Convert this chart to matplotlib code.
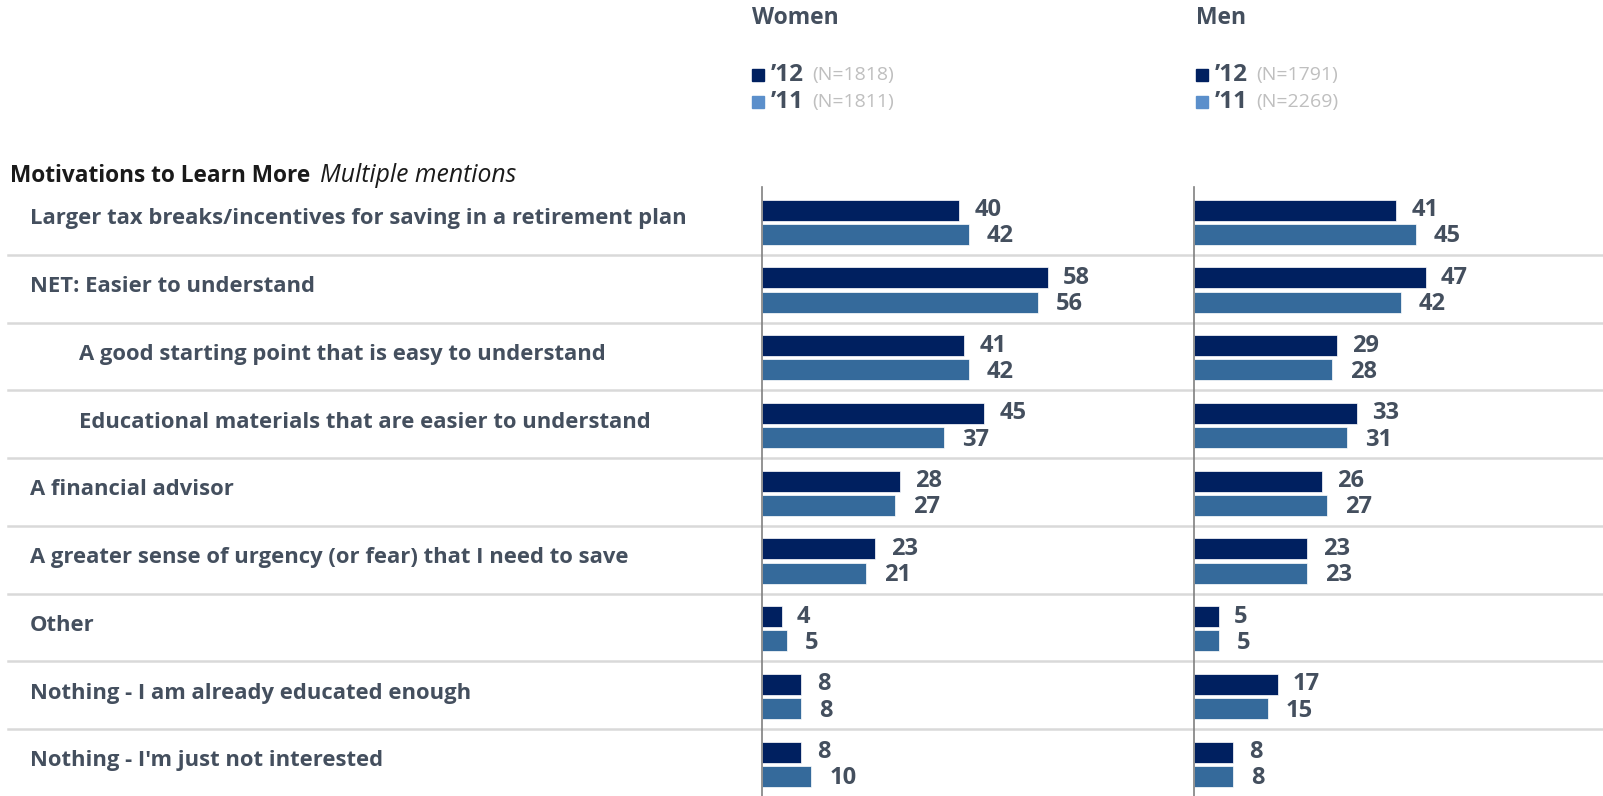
import matplotlib
matplotlib.use('Agg')
import matplotlib.pyplot as plt
import matplotlib.transforms as mtransforms
from matplotlib.lines import Line2D
from matplotlib.patches import Rectangle

# data
categories = ['Larger tax breaks/incentives for saving in a retirement plan',
              'NET: Easier to understand',
              'A good starting point that is easy to understand',
              'Educational materials that are easier to understand',
              'A financial advisor',
              'A greater sense of urgency (or fear) that I need to save',
              'Other',
              'Nothing - I am already educated enough',
              "Nothing - I'm just not interested"]
indented = [False, False, True, True, False, False, False, False, False]

women_12 = [40, 58, 41, 45, 28, 23, 4, 8, 8]
women_11 = [42, 56, 42, 37, 27, 21, 5, 8, 10]
men_12 = [41, 47, 29, 33, 26, 23, 5, 17, 8]
men_11 = [45, 42, 28, 31, 27, 23, 5, 15, 8]

women_n = ['(N=1818)', '(N=1811)']
men_n = ['(N=1791)', '(N=2269)']
years = ['\u201912', '\u201911']

W, H = 1603, 796
c12 = '#002060'
c11 = '#356A9B'
c11_legend = '#5B8FCB'
txt = '#444F5E'
sep = '#D9D9D9'
FONT = 'Open Sans'

plt.rcParams['font.family'] = [FONT, 'DejaVu Sans']

fig = plt.figure(figsize=(W / 100, H / 100), dpi=100)


def fx(x):
    return x / W


def fy(y):
    return 1 - y / H


top = 187
row_h = 67.75
n = len(categories)
ax_w = 380
xmax = ax_w / 4.93


def panel(left, v12, v11):
    ax = fig.add_axes([fx(left), 0, fx(ax_w), (H - top) / H])
    ys = range(n)
    ax.barh([i + 0.34 for i in ys], v12, height=0.31, color=c12, edgecolor='white', linewidth=0.5)
    ax.barh([i + 0.70 for i in ys], v11, height=0.31, color=c11, edgecolor='white', linewidth=0.5)
    for i in ys:
        ax.annotate(str(v12[i]), xy=(v12[i], i + 0.34), xytext=(11, 0), textcoords='offset points',
                    ha='left', va='center', fontsize=17, fontweight='bold', color=txt)
        ax.annotate(str(v11[i]), xy=(v11[i], i + 0.73), xytext=(13, 0), textcoords='offset points',
                    ha='left', va='center', fontsize=17, fontweight='bold', color=txt)
    ax.set_xlim(0, xmax)
    ax.set_ylim((H - top) / row_h, 0)
    for s in ['top', 'right', 'bottom']:
        ax.spines[s].set_visible(False)
    ax.spines['left'].set_color('#808080')
    ax.spines['left'].set_linewidth(1.2)
    ax.set_xticks([])
    ax.set_yticks([])
    ax.patch.set_alpha(0)
    return ax


ax_women = panel(762, women_12, women_11)
ax_men = panel(1194, men_12, men_11)

# row separators and category labels
trans = mtransforms.blended_transform_factory(fig.transFigure, ax_women.transData)
for i in range(1, n):
    fig.add_artist(Line2D([fx(8), 1], [i, i], transform=trans, color=sep, linewidth=1.8, zorder=0))
for i, cat in enumerate(categories):
    x = 79 if indented[i] else 30
    fig.text(fx(x), i + 0.47, cat, transform=trans,
             fontsize=15.8, fontweight='bold', color=txt, va='center', ha='left')

# title
t1 = fig.text(fx(10), fy(176), 'Motivations to Learn More', fontsize=16.3, fontweight='bold',
              color='#1a1a1a', va='center', ha='left')
fig.canvas.draw()
bb = t1.get_window_extent()
fig.text(bb.x1 / W + fx(10), fy(176), 'Multiple mentions', fontsize=17.8, style='italic',
         color='#1a1a1a', va='center', ha='left')

# headers and legends
for x0, head, ns in [(752, 'Women', women_n), (1196, 'Men', men_n)]:
    fig.text(fx(x0), fy(18), head, fontsize=16.5, fontweight='bold', color=txt, va='center', ha='left')
    for j, (yr, col, y) in enumerate(zip(years, [c12, c11_legend], [75, 102])):
        fig.add_artist(Rectangle((fx(x0), fy(y + 6)), fx(12), 12 / H, transform=fig.transFigure,
                                 color=col))
        t = fig.text(fx(x0 + 19), fy(y), yr, fontsize=17.5, fontweight='bold', color=txt,
                     va='center', ha='left')
        fig.canvas.draw()
        b = t.get_window_extent()
        fig.text(b.x1 / W + fx(8), fy(y), ns[j], fontsize=14, color='#BFBFBF',
                 va='center', ha='left')

fig.savefig('out.png', dpi=100)
